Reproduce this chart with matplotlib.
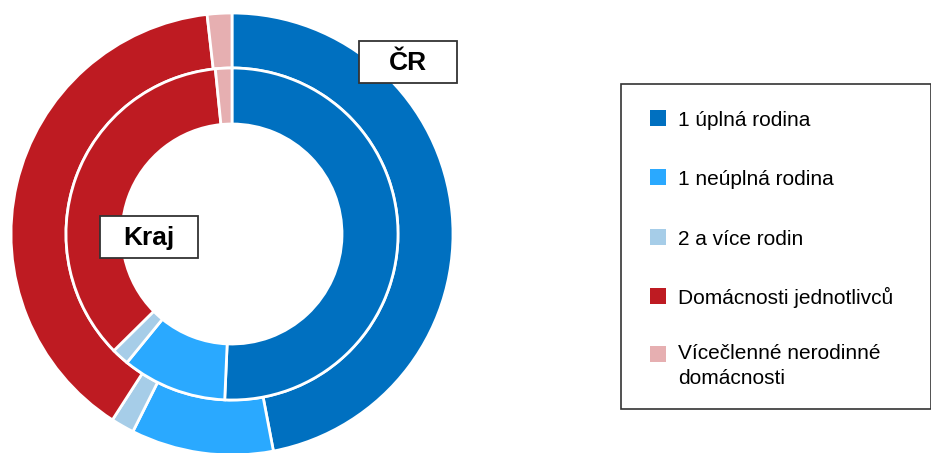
import matplotlib
matplotlib.use("Agg")
import matplotlib.pyplot as plt
from matplotlib.patches import Rectangle

categories = ["1 úplná rodina", "1 neúplná rodina", "2 a více rodin",
              "Domácnosti jednotlivců", "Vícečlenné nerodinné\ndomácnosti"]
cr_values = [47.0, 10.4, 1.7, 39.1, 1.8]
kraj_values = [50.7, 10.2, 1.7, 35.8, 1.6]
colors = ["#0070C0", "#2AA9FF", "#A6CDE8", "#BE1B22", "#E6AFB1"]
ring_labels = ["ČR", "Kraj"]

W, H = 931, 453
plt.rcParams['font.family'] = ['Liberation Sans', 'DejaVu Sans']
fig = plt.figure(figsize=(W / 100, H / 100), dpi=100)

cx, cy, R = 232, 234, 221
ax = fig.add_axes([(cx - R) / W, (H - cy - R) / H, 2 * R / W, 2 * R / H])
ax.set_xlim(-1, 1)
ax.set_ylim(-1, 1)
ax.set_aspect('equal')
ax.axis('off')

r_mid = 166 / R
r_in = 110 / R
ax.pie(cr_values, colors=colors, radius=1.0, startangle=90, counterclock=False,
       wedgeprops=dict(width=1.0 - r_mid, edgecolor='white', linewidth=2))
ax.pie(kraj_values, colors=colors, radius=r_mid, startangle=90, counterclock=False,
       wedgeprops=dict(width=r_mid - r_in, edgecolor='white', linewidth=2))
ax.set_xlim(-1, 1)
ax.set_ylim(-1, 1)


def fig_box(x0, y0, x1, y1, **kw):
    fig.patches.append(Rectangle((x0 / W, 1 - y1 / H), (x1 - x0) / W, (y1 - y0) / H,
                                 transform=fig.transFigure, **kw))


# ring labels
for label, (x0, y0, x1, y1) in zip(ring_labels, [(359, 41, 457, 83), (100, 216, 198, 258)]):
    fig_box(x0, y0, x1, y1, facecolor='white', edgecolor='#333333', linewidth=1.3, zorder=5)
    fig.text((x0 + x1) / 2 / W, 1 - (y1 - 13) / H, label, ha='center', va='baseline',
             fontsize=19, fontweight='bold', color='black', zorder=6)

# legend
fig_box(621, 84, 931, 409, facecolor='white', edgecolor='#333333', linewidth=1.2, zorder=1)
ys = [118, 177, 237, 296, 354]
for cat, col, y in zip(categories, colors, ys):
    fig_box(650, y - 8, 666, y + 8, facecolor=col, edgecolor='none', zorder=2)
    lines = cat.split("\n")
    base = y + 8 if len(lines) == 1 else y + 5
    for i, line in enumerate(lines):
        fig.text(678 / W, 1 - (base + 25 * i) / H, line, ha='left', va='baseline',
                 fontsize=15, color='black', zorder=3)

fig.savefig("out.png", dpi=100)
